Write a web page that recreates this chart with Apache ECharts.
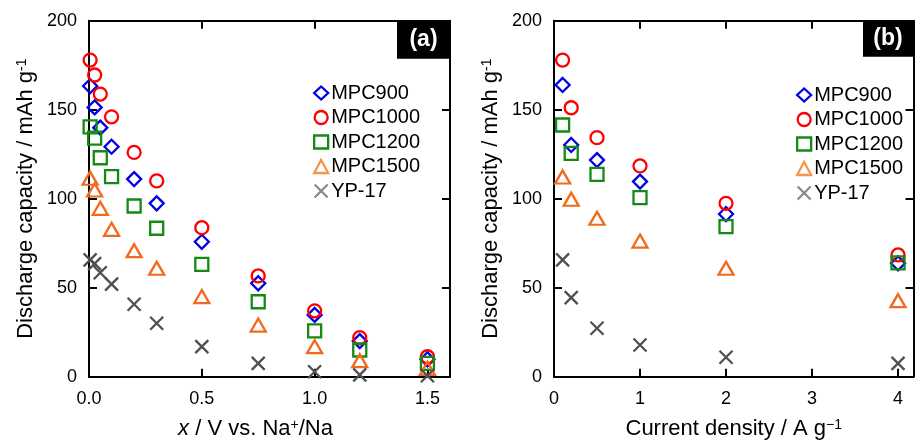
<!DOCTYPE html>
<html>
<head>
<meta charset="utf-8">
<script src="https://cdn.jsdelivr.net/npm/echarts@6/dist/echarts.min.js"></script>
<style>
html,body{margin:0;padding:0;background:#fff;}
#main{width:915px;height:440px;}
</style>
</head>
<body>
<div id="main"></div>
<script>
// ---- data ----
var seriesNames = ['MPC900', 'MPC1000', 'MPC1200', 'MPC1500', 'YP-17'];

// panel (a): x / V vs. Na+/Na
var xA = [0.005, 0.025, 0.05, 0.1, 0.2, 0.3, 0.5, 0.75, 1.0, 1.2, 1.5];
var mpc900A  = [163.3, 151.3, 139.9, 129.2, 111.0, 97.4, 75.8, 52.5, 34.7, 20.0, 9.8];
var mpc1000A = [177.9, 169.5, 158.8, 146.0, 126.0, 110.0, 83.7, 56.6, 37.0, 21.9, 11.2];
var mpc1200A = [140.4, 134.0, 123.0, 112.4, 95.9, 83.4, 63.1, 42.1, 25.8, 15.0, 7.5];
var mpc1500A = [111.5, 104.9, 94.6, 82.8, 70.8, 60.9, 45.0, 29.0, 16.9, 9.0, 4.7];
var yp17A    = [65.6, 63.5, 58.4, 52.0, 40.7, 30.0, 16.9, 7.5, 2.8, 1.0, 0.5];

// panel (b): current density / A g-1
var xB = [0.1, 0.2, 0.5, 1, 2, 4];
var mpc900B  = [163.9, 130.2, 121.7, 109.6, 91.4, 63.7];
var mpc1000B = [177.9, 151.1, 134.3, 118.4, 97.4, 68.4];
var mpc1200B = [141.4, 125.5, 113.7, 100.6, 84.3, 64.0];
var mpc1500B = [112.2, 99.7, 89.0, 76.2, 60.9, 42.7];
var yp17B    = [65.6, 44.4, 27.2, 17.8, 10.9, 7.5];

// tick labels
var xTicksA = [0, 0.5, 1.0, 1.5];
var xTicksB = [0, 1, 2, 3, 4];
var yTicks = [0, 50, 100, 150, 200];
var panelLabels = ['(a)', '(b)'];

// ---- styles ----
var FONT = '"Liberation Sans", Arial, Helvetica, sans-serif';
var styles = {
  'MPC900':  {symbol: 'diamond', size: [14, 14], color: '#0000e6', legendColor: '#0000e6'},
  'MPC1000': {symbol: 'circle', size: 13, color: '#ff0000', legendColor: '#ff0000'},
  'MPC1200': {symbol: 'rect', size: 13, color: '#138a13', legendColor: '#138a13'},
  'MPC1500': {symbol: 'triangle', size: [15, 13], color: '#f26a1b', legendColor: '#f7954a'},
  'YP-17':   {symbol: 'path://M0,0L10,10M10,0L0,10', size: 13, color: '#505050', legendColor: '#8a8a8a'}
};

var valsA = [mpc900A, mpc1000A, mpc1200A, mpc1500A, yp17A];
var valsB = [mpc900B, mpc1000B, mpc1200B, mpc1500B, yp17B];

function pair(xs, ys) { return xs.map(function (x, i) { return [x, ys[i]]; }); }

var series = [];
function addSeries(xs, valsList, axisIdx) {
  seriesNames.forEach(function (n, k) {
    var s = styles[n];
    series.push({
      name: n,
      type: 'scatter',
      xAxisIndex: axisIdx,
      yAxisIndex: axisIdx,
      symbol: s.symbol,
      symbolSize: s.size,
      data: pair(xs, valsList[k]),
      itemStyle: {color: 'rgba(255,255,255,0)', borderColor: s.color, borderWidth: 2.3, opacity: 1},
      emphasis: {disabled: true},
      z: 2 + k
    });
  });
}
addSeries(xA, valsA, 0);
addSeries(xB, valsB, 2);

function xAxisPair(gridIdx, max, ticks, fmt, nameRich, nameStr, namePad) {
  var line = {show: true, onZero: false, lineStyle: {color: '#000', width: 2}};
  var tick = {show: true, inside: true, length: 8, lineStyle: {color: '#000', width: 2}, customValues: ticks};
  return [
    {
      type: 'value', gridIndex: gridIdx, position: 'bottom', min: 0, max: max,
      axisLine: line, axisTick: tick, splitLine: {show: false},
      axisLabel: {customValues: ticks, formatter: fmt, fontSize: 18, margin: 13, color: '#000', fontFamily: FONT},
      name: nameStr, nameLocation: 'middle', nameGap: 41,
      nameTextStyle: {fontSize: 22, color: '#000', fontFamily: FONT, rich: nameRich, padding: namePad}
    },
    {
      type: 'value', gridIndex: gridIdx, position: 'top', min: 0, max: max,
      axisLine: line, axisTick: tick, splitLine: {show: false},
      axisLabel: {show: false}
    }
  ];
}
function yAxisPair(gridIdx, nameRich, nameStr) {
  var line = {show: true, onZero: false, lineStyle: {color: '#000', width: 2}};
  var tick = {show: true, inside: true, length: 8, lineStyle: {color: '#000', width: 2}, customValues: yTicks};
  return [
    {
      type: 'value', gridIndex: gridIdx, position: 'left', min: 0, max: 200,
      axisLine: line, axisTick: tick, splitLine: {show: false},
      axisLabel: {customValues: yTicks, fontSize: 18, margin: 12, color: '#000', fontFamily: FONT},
      name: nameStr, nameLocation: 'middle', nameGap: 52, nameRotate: 90,
      nameTextStyle: {fontSize: 22, color: '#000', fontFamily: FONT, rich: nameRich}
    },
    {
      type: 'value', gridIndex: gridIdx, position: 'right', min: 0, max: 200,
      axisLine: line, axisTick: tick, splitLine: {show: false},
      axisLabel: {show: false}
    }
  ];
}

var rich = {
  i: {fontStyle: 'italic', fontSize: 22, fontFamily: FONT, color: '#000'},
  n: {fontSize: 22, fontFamily: FONT, color: '#000'},
  sup: {fontSize: 14, fontFamily: FONT, color: '#000', verticalAlign: 'top', lineHeight: 14}
};

var xAxes = []
  .concat(xAxisPair(0, 1.6, xTicksA, function (v) { return v.toFixed(1); }, rich,
      '{i|x}{n| / V vs. Na}{sup|+}{n|/Na}', [0, 28, 0, 0]))
  .concat(xAxisPair(1, 4.18, xTicksB, function (v) { return String(v); }, rich,
      '{n|Current density / A g}{sup|\u22121}', [0, 0, 0, 0]));
var yAxes = []
  .concat(yAxisPair(0, rich, '{n|Discharge capacity / mAh g}{sup|-1}'))
  .concat(yAxisPair(1, rich, '{n|Discharge capacity / mAh g}{sup|-1}'));

function legendFor(left, top) {
  return {
    orient: 'vertical', left: left, top: top,
    itemWidth: 14, itemHeight: 13, itemGap: 4.5,
    selectedMode: false,
    textStyle: {fontSize: 20, color: '#000', fontFamily: FONT, padding: [0, 0, 0, -2]},
    data: seriesNames.map(function (n) {
      return {name: n, itemStyle: {borderColor: styles[n].legendColor, borderWidth: 2.3, color: 'rgba(255,255,255,0)', opacity: 1}};
    })
  };
}

var option = {
  backgroundColor: '#fff',
  animation: false,
  grid: [
    {left: 89, top: 20.7, width: 361, height: 356, containLabel: false, outerBoundsMode: 'none'},
    {left: 554, top: 20.7, width: 359.5, height: 356, containLabel: false, outerBoundsMode: 'none'}
  ],
  xAxis: xAxes,
  yAxis: yAxes,
  legend: [legendFor(308, 78), legendFor(791, 80)],
  graphic: [
    {type: 'rect', shape: {x: 397, y: 20.7, width: 53, height: 38}, style: {fill: '#000'}, z: 100},
    {type: 'text', x: 423.5, y: 40, style: {text: panelLabels[0], fill: '#fff', font: 'bold 23px ' + FONT, textAlign: 'center', textVerticalAlign: 'middle'}, z: 101},
    {type: 'rect', shape: {x: 863, y: 20.7, width: 50.5, height: 36}, style: {fill: '#000'}, z: 100},
    {type: 'text', x: 888, y: 39, style: {text: panelLabels[1], fill: '#fff', font: 'bold 23px ' + FONT, textAlign: 'center', textVerticalAlign: 'middle'}, z: 101}
  ],
  series: series
};

var chart = echarts.init(document.getElementById('main'), null, {renderer: 'canvas'});
chart.setOption(option);
</script>
</body>
</html>
